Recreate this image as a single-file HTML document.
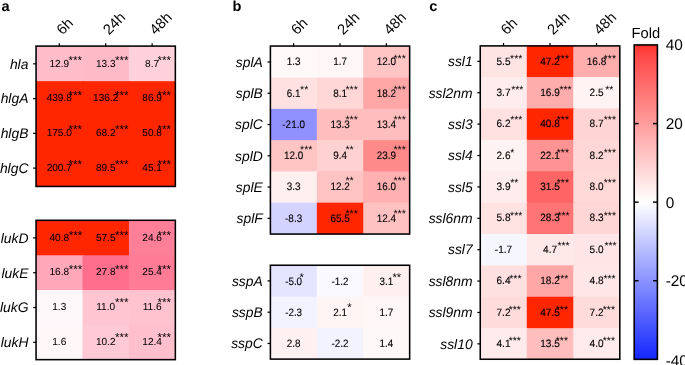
<!DOCTYPE html>
<html><head><meta charset="utf-8"><title>Heatmap</title>
<style>
html,body{margin:0;padding:0;background:#fff;}
body{width:685px;height:365px;overflow:hidden;}
svg{display:block;}
svg text{font-family:"Liberation Sans", Arial, Helvetica, sans-serif;fill:#000;text-rendering:geometricPrecision;}
</style></head><body>
<svg width="685" height="365" viewBox="0 0 685 365">
<defs><linearGradient id="cb" x1="0" y1="0" x2="0" y2="1">
<stop offset="0" stop-color="#FF342A"/><stop offset="0.035" stop-color="#FF4848"/><stop offset="0.5" stop-color="#FFFFFF"/><stop offset="1" stop-color="#1426FF"/>
</linearGradient></defs>
<rect x="0" y="0" width="685" height="365" fill="#fff"/>
<line x1="59.27" y1="43.20" x2="59.27" y2="46.10" stroke="#000" stroke-width="1.25"/>
<text transform="translate(62.57,35.60) rotate(-45)" font-size="14.7">6h</text>
<line x1="105.70" y1="43.20" x2="105.70" y2="46.10" stroke="#000" stroke-width="1.25"/>
<text transform="translate(109.00,35.60) rotate(-45)" font-size="14.7">24h</text>
<line x1="152.13" y1="43.20" x2="152.13" y2="46.10" stroke="#000" stroke-width="1.25"/>
<text transform="translate(155.43,35.60) rotate(-45)" font-size="14.7">48h</text>
<rect x="36.05" y="46.42" width="47.93" height="36.27" fill="rgb(255,188,201)"/>
<rect x="82.48" y="46.42" width="47.93" height="36.27" fill="rgb(255,186,200)"/>
<rect x="128.92" y="46.42" width="46.43" height="36.27" fill="rgb(255,210,219)"/>
<rect x="36.05" y="81.19" width="47.93" height="36.27" fill="rgb(255,38,0)"/>
<rect x="82.48" y="81.19" width="47.93" height="36.27" fill="rgb(255,38,0)"/>
<rect x="128.92" y="81.19" width="46.43" height="36.27" fill="rgb(255,38,0)"/>
<rect x="36.05" y="115.96" width="47.93" height="36.27" fill="rgb(255,38,0)"/>
<rect x="82.48" y="115.96" width="47.93" height="36.27" fill="rgb(255,38,0)"/>
<rect x="128.92" y="115.96" width="46.43" height="36.27" fill="rgb(255,38,0)"/>
<rect x="36.05" y="150.73" width="47.93" height="35.72" fill="rgb(255,38,0)"/>
<rect x="82.48" y="150.73" width="47.93" height="35.72" fill="rgb(255,38,0)"/>
<rect x="128.92" y="150.73" width="46.43" height="35.72" fill="rgb(255,38,0)"/>
<rect x="36.05" y="46.10" width="139.30" height="140.35" fill="none" stroke="#000" stroke-width="1.55"/>
<line x1="33.15" y1="63.81" x2="36.05" y2="63.81" stroke="#000" stroke-width="1.25"/>
<text x="28.45" y="68.61" font-size="13.9" font-style="italic" text-anchor="end">hla</text>
<text transform="translate(59.27,66.51) scale(0.99,1)" font-size="10.2" text-anchor="middle" stroke="#000" stroke-width="0.04">12.9</text>
<text x="68.50" y="63.80" font-size="11.5">***</text>
<text transform="translate(105.70,66.51) scale(0.99,1)" font-size="10.2" text-anchor="middle" stroke="#000" stroke-width="0.04">13.3</text>
<text x="115.10" y="63.80" font-size="11.5">***</text>
<text transform="translate(152.13,66.51) scale(0.99,1)" font-size="10.2" text-anchor="middle" stroke="#000" stroke-width="0.04">8.7</text>
<text x="157.60" y="63.80" font-size="11.5">***</text>
<line x1="33.15" y1="98.58" x2="36.05" y2="98.58" stroke="#000" stroke-width="1.25"/>
<text x="28.45" y="103.38" font-size="13.9" font-style="italic" text-anchor="end">hlgA</text>
<text transform="translate(59.27,101.28) scale(0.99,1)" font-size="10.2" text-anchor="middle" stroke="#000" stroke-width="0.04">439.8</text>
<text x="68.50" y="99.20" font-size="11.5">***</text>
<text transform="translate(105.70,101.28) scale(0.99,1)" font-size="10.2" text-anchor="middle" stroke="#000" stroke-width="0.04">136.2</text>
<text x="115.10" y="99.20" font-size="11.5">***</text>
<text transform="translate(152.13,101.28) scale(0.99,1)" font-size="10.2" text-anchor="middle" stroke="#000" stroke-width="0.04">86.9</text>
<text x="157.60" y="99.20" font-size="11.5">***</text>
<line x1="33.15" y1="133.35" x2="36.05" y2="133.35" stroke="#000" stroke-width="1.25"/>
<text x="28.45" y="138.15" font-size="13.9" font-style="italic" text-anchor="end">hlgB</text>
<text transform="translate(59.27,136.05) scale(0.99,1)" font-size="10.2" text-anchor="middle" stroke="#000" stroke-width="0.04">175.0</text>
<text x="68.50" y="133.00" font-size="11.5">***</text>
<text transform="translate(105.70,136.05) scale(0.99,1)" font-size="10.2" text-anchor="middle" stroke="#000" stroke-width="0.04">68.2</text>
<text x="115.10" y="133.00" font-size="11.5">***</text>
<text transform="translate(152.13,136.05) scale(0.99,1)" font-size="10.2" text-anchor="middle" stroke="#000" stroke-width="0.04">50.8</text>
<text x="157.60" y="133.00" font-size="11.5">***</text>
<line x1="33.15" y1="168.12" x2="36.05" y2="168.12" stroke="#000" stroke-width="1.25"/>
<text x="28.45" y="172.92" font-size="13.9" font-style="italic" text-anchor="end">hlgC</text>
<text transform="translate(59.27,170.81) scale(0.99,1)" font-size="10.2" text-anchor="middle" stroke="#000" stroke-width="0.04">200.7</text>
<text x="68.50" y="167.80" font-size="11.5">***</text>
<text transform="translate(105.70,170.81) scale(0.99,1)" font-size="10.2" text-anchor="middle" stroke="#000" stroke-width="0.04">89.5</text>
<text x="115.10" y="167.80" font-size="11.5">***</text>
<text transform="translate(152.13,170.81) scale(0.99,1)" font-size="10.2" text-anchor="middle" stroke="#000" stroke-width="0.04">45.1</text>
<text x="157.60" y="167.80" font-size="11.5">***</text>
<rect x="36.05" y="220.50" width="47.93" height="36.30" fill="rgb(255,38,0)"/>
<rect x="82.48" y="220.50" width="47.93" height="36.30" fill="rgb(255,38,0)"/>
<rect x="128.92" y="220.50" width="46.43" height="36.30" fill="rgb(255,127,153)"/>
<rect x="36.05" y="255.30" width="47.93" height="36.30" fill="rgb(255,168,185)"/>
<rect x="82.48" y="255.30" width="47.93" height="36.30" fill="rgb(255,110,140)"/>
<rect x="128.92" y="255.30" width="46.43" height="36.30" fill="rgb(255,123,150)"/>
<rect x="36.05" y="290.10" width="47.93" height="36.30" fill="rgb(255,248,250)"/>
<rect x="82.48" y="290.10" width="47.93" height="36.30" fill="rgb(255,198,209)"/>
<rect x="128.92" y="290.10" width="46.43" height="36.30" fill="rgb(255,195,207)"/>
<rect x="36.05" y="324.90" width="47.93" height="34.75" fill="rgb(255,247,248)"/>
<rect x="82.48" y="324.90" width="47.93" height="34.75" fill="rgb(255,202,213)"/>
<rect x="128.92" y="324.90" width="46.43" height="34.75" fill="rgb(255,191,204)"/>
<rect x="36.05" y="220.30" width="139.30" height="139.35" fill="none" stroke="#000" stroke-width="1.55"/>
<line x1="33.15" y1="237.90" x2="36.05" y2="237.90" stroke="#000" stroke-width="1.25"/>
<text x="28.45" y="242.70" font-size="13.9" font-style="italic" text-anchor="end">lukD</text>
<text transform="translate(59.27,240.60) scale(0.99,1)" font-size="10.2" text-anchor="middle" stroke="#000" stroke-width="0.04">40.8</text>
<text x="68.70" y="239.10" font-size="11.5">***</text>
<text transform="translate(105.70,240.60) scale(0.99,1)" font-size="10.2" text-anchor="middle" stroke="#000" stroke-width="0.04">57.5</text>
<text x="115.10" y="239.10" font-size="11.5">***</text>
<text transform="translate(152.13,240.60) scale(0.99,1)" font-size="10.2" text-anchor="middle" stroke="#000" stroke-width="0.04">24.6</text>
<text x="157.60" y="239.10" font-size="11.5">***</text>
<line x1="33.15" y1="272.70" x2="36.05" y2="272.70" stroke="#000" stroke-width="1.25"/>
<text x="28.45" y="277.50" font-size="13.9" font-style="italic" text-anchor="end">lukE</text>
<text transform="translate(59.27,275.40) scale(0.99,1)" font-size="10.2" text-anchor="middle" stroke="#000" stroke-width="0.04">16.8</text>
<text x="68.70" y="273.20" font-size="11.5">***</text>
<text transform="translate(105.70,275.40) scale(0.99,1)" font-size="10.2" text-anchor="middle" stroke="#000" stroke-width="0.04">27.8</text>
<text x="115.10" y="273.20" font-size="11.5">***</text>
<text transform="translate(152.13,275.40) scale(0.99,1)" font-size="10.2" text-anchor="middle" stroke="#000" stroke-width="0.04">25.4</text>
<text x="157.60" y="273.20" font-size="11.5">***</text>
<line x1="33.15" y1="307.50" x2="36.05" y2="307.50" stroke="#000" stroke-width="1.25"/>
<text x="28.45" y="312.30" font-size="13.9" font-style="italic" text-anchor="end">lukG</text>
<text transform="translate(59.27,310.20) scale(0.99,1)" font-size="10.2" text-anchor="middle" stroke="#000" stroke-width="0.04">1.3</text>
<text transform="translate(105.70,310.20) scale(0.99,1)" font-size="10.2" text-anchor="middle" stroke="#000" stroke-width="0.04">11.0</text>
<text x="115.10" y="305.60" font-size="11.5">***</text>
<text transform="translate(152.13,310.20) scale(0.99,1)" font-size="10.2" text-anchor="middle" stroke="#000" stroke-width="0.04">11.6</text>
<text x="157.60" y="305.60" font-size="11.5">***</text>
<line x1="33.15" y1="342.30" x2="36.05" y2="342.30" stroke="#000" stroke-width="1.25"/>
<text x="28.45" y="347.10" font-size="13.9" font-style="italic" text-anchor="end">lukH</text>
<text transform="translate(59.27,345.00) scale(0.99,1)" font-size="10.2" text-anchor="middle" stroke="#000" stroke-width="0.04">1.6</text>
<text transform="translate(105.70,345.00) scale(0.99,1)" font-size="10.2" text-anchor="middle" stroke="#000" stroke-width="0.04">10.2</text>
<text x="115.10" y="341.20" font-size="11.5">***</text>
<text transform="translate(152.13,345.00) scale(0.99,1)" font-size="10.2" text-anchor="middle" stroke="#000" stroke-width="0.04">12.4</text>
<text x="157.60" y="341.20" font-size="11.5">***</text>
<line x1="293.61" y1="43.15" x2="293.61" y2="46.05" stroke="#000" stroke-width="1.25"/>
<text transform="translate(296.91,35.60) rotate(-45)" font-size="14.7">6h</text>
<line x1="340.02" y1="43.15" x2="340.02" y2="46.05" stroke="#000" stroke-width="1.25"/>
<text transform="translate(343.32,35.60) rotate(-45)" font-size="14.7">24h</text>
<line x1="386.44" y1="43.15" x2="386.44" y2="46.05" stroke="#000" stroke-width="1.25"/>
<text transform="translate(389.74,35.60) rotate(-45)" font-size="14.7">48h</text>
<rect x="270.40" y="46.37" width="47.92" height="32.76" fill="rgb(255,249,249)"/>
<rect x="316.82" y="46.37" width="47.92" height="32.76" fill="rgb(255,247,247)"/>
<rect x="363.23" y="46.37" width="46.42" height="32.76" fill="rgb(255,196,196)"/>
<rect x="270.40" y="77.63" width="47.92" height="32.76" fill="rgb(255,225,225)"/>
<rect x="316.82" y="77.63" width="47.92" height="32.76" fill="rgb(255,215,215)"/>
<rect x="363.23" y="77.63" width="46.42" height="32.76" fill="rgb(255,166,166)"/>
<rect x="270.40" y="108.89" width="47.92" height="32.76" fill="rgb(144,144,255)"/>
<rect x="316.82" y="108.89" width="47.92" height="32.76" fill="rgb(255,190,190)"/>
<rect x="363.23" y="108.89" width="46.42" height="32.76" fill="rgb(255,189,189)"/>
<rect x="270.40" y="140.15" width="47.92" height="32.76" fill="rgb(255,196,196)"/>
<rect x="316.82" y="140.15" width="47.92" height="32.76" fill="rgb(255,209,209)"/>
<rect x="363.23" y="140.15" width="46.42" height="32.76" fill="rgb(255,138,138)"/>
<rect x="270.40" y="171.41" width="47.92" height="32.76" fill="rgb(255,239,239)"/>
<rect x="316.82" y="171.41" width="47.92" height="32.76" fill="rgb(255,195,195)"/>
<rect x="363.23" y="171.41" width="46.42" height="32.76" fill="rgb(255,177,177)"/>
<rect x="270.40" y="202.67" width="47.92" height="31.38" fill="rgb(211,211,255)"/>
<rect x="316.82" y="202.67" width="47.92" height="31.38" fill="rgb(255,38,0)"/>
<rect x="363.23" y="202.67" width="46.42" height="31.38" fill="rgb(255,194,194)"/>
<rect x="270.40" y="46.05" width="139.25" height="188.00" fill="none" stroke="#000" stroke-width="1.55"/>
<line x1="267.50" y1="62.00" x2="270.40" y2="62.00" stroke="#000" stroke-width="1.25"/>
<text x="262.80" y="66.80" font-size="13.9" font-style="italic" text-anchor="end">splA</text>
<text transform="translate(293.61,65.30) scale(0.91,1)" font-size="10.9" text-anchor="middle" stroke="#000" stroke-width="0.12">1.3</text>
<text transform="translate(340.02,65.30) scale(0.91,1)" font-size="10.9" text-anchor="middle" stroke="#000" stroke-width="0.12">1.7</text>
<text transform="translate(386.44,65.30) scale(0.91,1)" font-size="10.9" text-anchor="middle" stroke="#000" stroke-width="0.12">12.0</text>
<text x="393.40" y="62.40" font-size="10.7">***</text>
<line x1="267.50" y1="93.26" x2="270.40" y2="93.26" stroke="#000" stroke-width="1.25"/>
<text x="262.80" y="98.06" font-size="13.9" font-style="italic" text-anchor="end">splB</text>
<text transform="translate(293.61,96.56) scale(0.91,1)" font-size="10.9" text-anchor="middle" stroke="#000" stroke-width="0.12">6.1</text>
<text x="300.00" y="93.10" font-size="10.7">**</text>
<text transform="translate(340.02,96.56) scale(0.91,1)" font-size="10.9" text-anchor="middle" stroke="#000" stroke-width="0.12">8.1</text>
<text x="345.40" y="93.10" font-size="10.7">***</text>
<text transform="translate(386.44,96.56) scale(0.91,1)" font-size="10.9" text-anchor="middle" stroke="#000" stroke-width="0.12">18.2</text>
<text x="393.40" y="93.10" font-size="10.7">***</text>
<line x1="267.50" y1="124.52" x2="270.40" y2="124.52" stroke="#000" stroke-width="1.25"/>
<text x="262.80" y="129.32" font-size="13.9" font-style="italic" text-anchor="end">splC</text>
<text transform="translate(293.61,127.82) scale(0.91,1)" font-size="10.9" text-anchor="middle" stroke="#000" stroke-width="0.12">-21.0</text>
<text transform="translate(340.02,127.82) scale(0.91,1)" font-size="10.9" text-anchor="middle" stroke="#000" stroke-width="0.12">13.3</text>
<text x="345.40" y="122.80" font-size="10.7">***</text>
<text transform="translate(386.44,127.82) scale(0.91,1)" font-size="10.9" text-anchor="middle" stroke="#000" stroke-width="0.12">13.4</text>
<text x="393.40" y="122.80" font-size="10.7">***</text>
<line x1="267.50" y1="155.78" x2="270.40" y2="155.78" stroke="#000" stroke-width="1.25"/>
<text x="262.80" y="160.58" font-size="13.9" font-style="italic" text-anchor="end">splD</text>
<text transform="translate(293.61,159.08) scale(0.91,1)" font-size="10.9" text-anchor="middle" stroke="#000" stroke-width="0.12">12.0</text>
<text x="300.00" y="153.40" font-size="10.7">***</text>
<text transform="translate(340.02,159.08) scale(0.91,1)" font-size="10.9" text-anchor="middle" stroke="#000" stroke-width="0.12">9.4</text>
<text x="345.40" y="153.40" font-size="10.7">**</text>
<text transform="translate(386.44,159.08) scale(0.91,1)" font-size="10.9" text-anchor="middle" stroke="#000" stroke-width="0.12">23.9</text>
<text x="393.40" y="153.40" font-size="10.7">***</text>
<line x1="267.50" y1="187.04" x2="270.40" y2="187.04" stroke="#000" stroke-width="1.25"/>
<text x="262.80" y="191.84" font-size="13.9" font-style="italic" text-anchor="end">splE</text>
<text transform="translate(293.61,190.34) scale(0.91,1)" font-size="10.9" text-anchor="middle" stroke="#000" stroke-width="0.12">3.3</text>
<text transform="translate(340.02,190.34) scale(0.91,1)" font-size="10.9" text-anchor="middle" stroke="#000" stroke-width="0.12">12.2</text>
<text x="345.40" y="183.80" font-size="10.7">**</text>
<text transform="translate(386.44,190.34) scale(0.91,1)" font-size="10.9" text-anchor="middle" stroke="#000" stroke-width="0.12">16.0</text>
<text x="393.40" y="183.80" font-size="10.7">***</text>
<line x1="267.50" y1="218.30" x2="270.40" y2="218.30" stroke="#000" stroke-width="1.25"/>
<text x="262.80" y="223.10" font-size="13.9" font-style="italic" text-anchor="end">splF</text>
<text transform="translate(293.61,221.60) scale(0.91,1)" font-size="10.9" text-anchor="middle" stroke="#000" stroke-width="0.12">-8.3</text>
<text transform="translate(340.02,221.60) scale(0.91,1)" font-size="10.9" text-anchor="middle" stroke="#000" stroke-width="0.12">65.5</text>
<text x="345.40" y="216.60" font-size="10.7">***</text>
<text transform="translate(386.44,221.60) scale(0.91,1)" font-size="10.9" text-anchor="middle" stroke="#000" stroke-width="0.12">12.4</text>
<text x="393.40" y="216.60" font-size="10.7">***</text>
<rect x="270.40" y="265.25" width="47.92" height="32.78" fill="rgb(228,228,255)"/>
<rect x="316.82" y="265.25" width="47.92" height="32.78" fill="rgb(249,249,255)"/>
<rect x="363.23" y="265.25" width="46.42" height="32.78" fill="rgb(255,240,240)"/>
<rect x="270.40" y="296.53" width="47.92" height="32.78" fill="rgb(243,243,255)"/>
<rect x="316.82" y="296.53" width="47.92" height="32.78" fill="rgb(255,245,245)"/>
<rect x="363.23" y="296.53" width="46.42" height="32.78" fill="rgb(255,247,247)"/>
<rect x="270.40" y="327.82" width="47.92" height="31.28" fill="rgb(255,241,241)"/>
<rect x="316.82" y="327.82" width="47.92" height="31.28" fill="rgb(243,243,255)"/>
<rect x="363.23" y="327.82" width="46.42" height="31.28" fill="rgb(255,248,248)"/>
<rect x="270.40" y="265.25" width="139.25" height="93.85" fill="none" stroke="#000" stroke-width="1.55"/>
<line x1="267.50" y1="280.89" x2="270.40" y2="280.89" stroke="#000" stroke-width="1.25"/>
<text x="262.80" y="285.69" font-size="13.9" font-style="italic" text-anchor="end">sspA</text>
<text transform="translate(293.61,284.59) scale(0.92,1)" font-size="10.7" text-anchor="middle" stroke="#000" stroke-width="0.12">-5.0</text>
<text x="299.60" y="280.50" font-size="11.2">*</text>
<text transform="translate(340.02,284.59) scale(0.92,1)" font-size="10.7" text-anchor="middle" stroke="#000" stroke-width="0.12">-1.2</text>
<text transform="translate(386.44,284.59) scale(0.92,1)" font-size="10.7" text-anchor="middle" stroke="#000" stroke-width="0.12">3.1</text>
<text x="392.50" y="280.50" font-size="11.2">**</text>
<line x1="267.50" y1="312.18" x2="270.40" y2="312.18" stroke="#000" stroke-width="1.25"/>
<text x="262.80" y="316.98" font-size="13.9" font-style="italic" text-anchor="end">sspB</text>
<text transform="translate(293.61,315.88) scale(0.92,1)" font-size="10.7" text-anchor="middle" stroke="#000" stroke-width="0.12">-2.3</text>
<text transform="translate(340.02,315.88) scale(0.92,1)" font-size="10.7" text-anchor="middle" stroke="#000" stroke-width="0.12">2.1</text>
<text x="347.20" y="310.60" font-size="11.2">*</text>
<text transform="translate(386.44,315.88) scale(0.92,1)" font-size="10.7" text-anchor="middle" stroke="#000" stroke-width="0.12">1.7</text>
<line x1="267.50" y1="343.46" x2="270.40" y2="343.46" stroke="#000" stroke-width="1.25"/>
<text x="262.80" y="348.26" font-size="13.9" font-style="italic" text-anchor="end">sspC</text>
<text transform="translate(293.61,347.16) scale(0.92,1)" font-size="10.7" text-anchor="middle" stroke="#000" stroke-width="0.12">2.8</text>
<text transform="translate(340.02,347.16) scale(0.92,1)" font-size="10.7" text-anchor="middle" stroke="#000" stroke-width="0.12">-2.2</text>
<text transform="translate(386.44,347.16) scale(0.92,1)" font-size="10.7" text-anchor="middle" stroke="#000" stroke-width="0.12">1.4</text>
<line x1="503.51" y1="43.00" x2="503.51" y2="45.90" stroke="#000" stroke-width="1.25"/>
<text transform="translate(506.81,35.60) rotate(-45)" font-size="14.7">6h</text>
<line x1="550.02" y1="43.00" x2="550.02" y2="45.90" stroke="#000" stroke-width="1.25"/>
<text transform="translate(553.32,35.60) rotate(-45)" font-size="14.7">24h</text>
<line x1="596.54" y1="43.00" x2="596.54" y2="45.90" stroke="#000" stroke-width="1.25"/>
<text transform="translate(599.84,35.60) rotate(-45)" font-size="14.7">48h</text>
<rect x="480.25" y="45.65" width="48.02" height="32.89" fill="rgb(255,228,228)"/>
<rect x="526.77" y="45.65" width="48.02" height="32.89" fill="rgb(255,38,0)"/>
<rect x="573.28" y="45.65" width="46.52" height="32.89" fill="rgb(255,173,173)"/>
<rect x="480.25" y="77.04" width="48.02" height="32.89" fill="rgb(255,237,237)"/>
<rect x="526.77" y="77.04" width="48.02" height="32.89" fill="rgb(255,172,172)"/>
<rect x="573.28" y="77.04" width="46.52" height="32.89" fill="rgb(255,243,243)"/>
<rect x="480.25" y="108.43" width="48.02" height="32.89" fill="rgb(255,225,225)"/>
<rect x="526.77" y="108.43" width="48.02" height="32.89" fill="rgb(255,38,0)"/>
<rect x="573.28" y="108.43" width="46.52" height="32.89" fill="rgb(255,212,212)"/>
<rect x="480.25" y="139.82" width="48.02" height="32.89" fill="rgb(255,242,242)"/>
<rect x="526.77" y="139.82" width="48.02" height="32.89" fill="rgb(255,147,147)"/>
<rect x="573.28" y="139.82" width="46.52" height="32.89" fill="rgb(255,215,215)"/>
<rect x="480.25" y="171.21" width="48.02" height="32.89" fill="rgb(255,236,236)"/>
<rect x="526.77" y="171.21" width="48.02" height="32.89" fill="rgb(255,101,101)"/>
<rect x="573.28" y="171.21" width="46.52" height="32.89" fill="rgb(255,216,216)"/>
<rect x="480.25" y="202.60" width="48.02" height="32.89" fill="rgb(255,227,227)"/>
<rect x="526.77" y="202.60" width="48.02" height="32.89" fill="rgb(255,116,116)"/>
<rect x="573.28" y="202.60" width="46.52" height="32.89" fill="rgb(255,214,214)"/>
<rect x="480.25" y="233.99" width="48.02" height="32.89" fill="rgb(246,246,255)"/>
<rect x="526.77" y="233.99" width="48.02" height="32.89" fill="rgb(255,232,232)"/>
<rect x="573.28" y="233.99" width="46.52" height="32.89" fill="rgb(255,230,230)"/>
<rect x="480.25" y="265.38" width="48.02" height="32.89" fill="rgb(255,224,224)"/>
<rect x="526.77" y="265.38" width="48.02" height="32.89" fill="rgb(255,166,166)"/>
<rect x="573.28" y="265.38" width="46.52" height="32.89" fill="rgb(255,231,231)"/>
<rect x="480.25" y="296.77" width="48.02" height="32.89" fill="rgb(255,220,220)"/>
<rect x="526.77" y="296.77" width="48.02" height="32.89" fill="rgb(255,38,0)"/>
<rect x="573.28" y="296.77" width="46.52" height="32.89" fill="rgb(255,220,220)"/>
<rect x="480.25" y="328.16" width="48.02" height="31.09" fill="rgb(255,235,235)"/>
<rect x="526.77" y="328.16" width="48.02" height="31.09" fill="rgb(255,189,189)"/>
<rect x="573.28" y="328.16" width="46.52" height="31.09" fill="rgb(255,235,235)"/>
<rect x="480.25" y="45.90" width="139.55" height="313.35" fill="none" stroke="#000" stroke-width="1.55"/>
<line x1="477.35" y1="61.34" x2="480.25" y2="61.34" stroke="#000" stroke-width="1.25"/>
<text x="472.65" y="66.14" font-size="13.9" font-style="italic" text-anchor="end">ssl1</text>
<text transform="translate(503.51,64.50) scale(0.95,1)" font-size="10.6" text-anchor="middle" stroke="#000" stroke-width="0.12">5.5</text>
<text x="510.10" y="62.35" font-size="10.4">***</text>
<text transform="translate(550.02,64.50) scale(0.95,1)" font-size="10.6" text-anchor="middle" stroke="#000" stroke-width="0.12">47.2</text>
<text x="556.80" y="62.35" font-size="10.4">***</text>
<text transform="translate(596.54,64.50) scale(0.95,1)" font-size="10.6" text-anchor="middle" stroke="#000" stroke-width="0.12">16.8</text>
<text x="603.80" y="62.35" font-size="10.4">***</text>
<line x1="477.35" y1="92.73" x2="480.25" y2="92.73" stroke="#000" stroke-width="1.25"/>
<text x="472.65" y="97.53" font-size="13.9" font-style="italic" text-anchor="end">ssl2nm</text>
<text transform="translate(503.51,95.89) scale(0.95,1)" font-size="10.6" text-anchor="middle" stroke="#000" stroke-width="0.12">3.7</text>
<text x="511.20" y="93.05" font-size="10.4">***</text>
<text transform="translate(550.02,95.89) scale(0.95,1)" font-size="10.6" text-anchor="middle" stroke="#000" stroke-width="0.12">16.9</text>
<text x="559.40" y="93.05" font-size="10.4">***</text>
<text transform="translate(596.54,95.89) scale(0.95,1)" font-size="10.6" text-anchor="middle" stroke="#000" stroke-width="0.12">2.5</text>
<text x="605.30" y="93.05" font-size="10.4">**</text>
<line x1="477.35" y1="124.12" x2="480.25" y2="124.12" stroke="#000" stroke-width="1.25"/>
<text x="472.65" y="128.93" font-size="13.9" font-style="italic" text-anchor="end">ssl3</text>
<text transform="translate(503.51,127.28) scale(0.95,1)" font-size="10.6" text-anchor="middle" stroke="#000" stroke-width="0.12">6.2</text>
<text x="510.20" y="123.15" font-size="10.4">***</text>
<text transform="translate(550.02,127.28) scale(0.95,1)" font-size="10.6" text-anchor="middle" stroke="#000" stroke-width="0.12">40.8</text>
<text x="556.80" y="123.15" font-size="10.4">***</text>
<text transform="translate(596.54,127.28) scale(0.95,1)" font-size="10.6" text-anchor="middle" stroke="#000" stroke-width="0.12">8.7</text>
<text x="603.80" y="123.15" font-size="10.4">***</text>
<line x1="477.35" y1="155.52" x2="480.25" y2="155.52" stroke="#000" stroke-width="1.25"/>
<text x="472.65" y="160.32" font-size="13.9" font-style="italic" text-anchor="end">ssl4</text>
<text transform="translate(503.51,158.67) scale(0.95,1)" font-size="10.6" text-anchor="middle" stroke="#000" stroke-width="0.12">2.6</text>
<text x="510.20" y="155.95" font-size="10.4">*</text>
<text transform="translate(550.02,158.67) scale(0.95,1)" font-size="10.6" text-anchor="middle" stroke="#000" stroke-width="0.12">22.1</text>
<text x="556.80" y="155.95" font-size="10.4">***</text>
<text transform="translate(596.54,158.67) scale(0.95,1)" font-size="10.6" text-anchor="middle" stroke="#000" stroke-width="0.12">8.2</text>
<text x="603.80" y="155.95" font-size="10.4">***</text>
<line x1="477.35" y1="186.91" x2="480.25" y2="186.91" stroke="#000" stroke-width="1.25"/>
<text x="472.65" y="191.71" font-size="13.9" font-style="italic" text-anchor="end">ssl5</text>
<text transform="translate(503.51,190.06) scale(0.95,1)" font-size="10.6" text-anchor="middle" stroke="#000" stroke-width="0.12">3.9</text>
<text x="510.20" y="185.85" font-size="10.4">**</text>
<text transform="translate(550.02,190.06) scale(0.95,1)" font-size="10.6" text-anchor="middle" stroke="#000" stroke-width="0.12">31.5</text>
<text x="556.80" y="185.85" font-size="10.4">***</text>
<text transform="translate(596.54,190.06) scale(0.95,1)" font-size="10.6" text-anchor="middle" stroke="#000" stroke-width="0.12">8.0</text>
<text x="603.80" y="185.85" font-size="10.4">***</text>
<line x1="477.35" y1="218.30" x2="480.25" y2="218.30" stroke="#000" stroke-width="1.25"/>
<text x="472.65" y="223.10" font-size="13.9" font-style="italic" text-anchor="end">ssl6nm</text>
<text transform="translate(503.51,221.45) scale(0.95,1)" font-size="10.6" text-anchor="middle" stroke="#000" stroke-width="0.12">5.8</text>
<text x="510.10" y="219.15" font-size="10.4">***</text>
<text transform="translate(550.02,221.45) scale(0.95,1)" font-size="10.6" text-anchor="middle" stroke="#000" stroke-width="0.12">28.3</text>
<text x="557.40" y="219.15" font-size="10.4">***</text>
<text transform="translate(596.54,221.45) scale(0.95,1)" font-size="10.6" text-anchor="middle" stroke="#000" stroke-width="0.12">8.3</text>
<text x="603.80" y="219.15" font-size="10.4">***</text>
<line x1="477.35" y1="249.69" x2="480.25" y2="249.69" stroke="#000" stroke-width="1.25"/>
<text x="472.65" y="254.49" font-size="13.9" font-style="italic" text-anchor="end">ssl7</text>
<text transform="translate(503.51,252.84) scale(0.95,1)" font-size="10.6" text-anchor="middle" stroke="#000" stroke-width="0.12">-1.7</text>
<text transform="translate(550.02,252.84) scale(0.95,1)" font-size="10.6" text-anchor="middle" stroke="#000" stroke-width="0.12">4.7</text>
<text x="557.40" y="248.85" font-size="10.4">***</text>
<text transform="translate(596.54,252.84) scale(0.95,1)" font-size="10.6" text-anchor="middle" stroke="#000" stroke-width="0.12">5.0</text>
<text x="604.40" y="248.85" font-size="10.4">***</text>
<line x1="477.35" y1="281.07" x2="480.25" y2="281.07" stroke="#000" stroke-width="1.25"/>
<text x="472.65" y="285.88" font-size="13.9" font-style="italic" text-anchor="end">ssl8nm</text>
<text transform="translate(503.51,284.22) scale(0.95,1)" font-size="10.6" text-anchor="middle" stroke="#000" stroke-width="0.12">6.4</text>
<text x="509.30" y="281.55" font-size="10.4">***</text>
<text transform="translate(550.02,284.22) scale(0.95,1)" font-size="10.6" text-anchor="middle" stroke="#000" stroke-width="0.12">18.2</text>
<text x="556.20" y="281.55" font-size="10.4">***</text>
<text transform="translate(596.54,284.22) scale(0.95,1)" font-size="10.6" text-anchor="middle" stroke="#000" stroke-width="0.12">4.8</text>
<text x="603.40" y="281.55" font-size="10.4">***</text>
<line x1="477.35" y1="312.46" x2="480.25" y2="312.46" stroke="#000" stroke-width="1.25"/>
<text x="472.65" y="317.26" font-size="13.9" font-style="italic" text-anchor="end">ssl9nm</text>
<text transform="translate(503.51,315.61) scale(0.95,1)" font-size="10.6" text-anchor="middle" stroke="#000" stroke-width="0.12">7.2</text>
<text x="508.70" y="313.25" font-size="10.4">***</text>
<text transform="translate(550.02,315.61) scale(0.95,1)" font-size="10.6" text-anchor="middle" stroke="#000" stroke-width="0.12">47.5</text>
<text x="555.80" y="313.25" font-size="10.4">***</text>
<text transform="translate(596.54,315.61) scale(0.95,1)" font-size="10.6" text-anchor="middle" stroke="#000" stroke-width="0.12">7.2</text>
<text x="602.80" y="313.25" font-size="10.4">***</text>
<line x1="477.35" y1="343.85" x2="480.25" y2="343.85" stroke="#000" stroke-width="1.25"/>
<text x="472.65" y="348.65" font-size="13.9" font-style="italic" text-anchor="end">ssl10</text>
<text transform="translate(503.51,347.00) scale(0.95,1)" font-size="10.6" text-anchor="middle" stroke="#000" stroke-width="0.12">4.1</text>
<text x="508.70" y="344.15" font-size="10.4">***</text>
<text transform="translate(550.02,347.00) scale(0.95,1)" font-size="10.6" text-anchor="middle" stroke="#000" stroke-width="0.12">13.5</text>
<text x="555.80" y="344.15" font-size="10.4">***</text>
<text transform="translate(596.54,347.00) scale(0.95,1)" font-size="10.6" text-anchor="middle" stroke="#000" stroke-width="0.12">4.0</text>
<text x="602.80" y="344.15" font-size="10.4">***</text>
<rect x="634.2" y="44.95" width="23.20" height="314.40" fill="url(#cb)" stroke="#000" stroke-width="1.6"/>
<line x1="634.2" y1="123.6" x2="638.6" y2="123.6" stroke="#000" stroke-width="1.45"/>
<line x1="653.0" y1="123.6" x2="657.4" y2="123.6" stroke="#000" stroke-width="1.45"/>
<line x1="634.2" y1="202.15" x2="638.6" y2="202.15" stroke="#000" stroke-width="1.45"/>
<line x1="653.0" y1="202.15" x2="657.4" y2="202.15" stroke="#000" stroke-width="1.45"/>
<line x1="634.2" y1="280.75" x2="638.6" y2="280.75" stroke="#000" stroke-width="1.45"/>
<line x1="653.0" y1="280.75" x2="657.4" y2="280.75" stroke="#000" stroke-width="1.45"/>
<text x="665.7" y="50.15" font-size="15.4">40</text>
<text x="665.7" y="128.70" font-size="15.4">20</text>
<text x="665.7" y="207.75" font-size="15.4">0</text>
<text x="665.7" y="286.35" font-size="15.4">-20</text>
<text x="665.7" y="365.70" font-size="15.4">-40</text>
<text x="631.5" y="37.8" font-size="14.7">Fold</text>
<text x="1.6" y="10.9" font-size="14.6" font-weight="bold">a</text>
<text x="232.4" y="10.9" font-size="14.6" font-weight="bold">b</text>
<text x="429.3" y="10.9" font-size="14.6" font-weight="bold">c</text>
</svg>
</body></html>
